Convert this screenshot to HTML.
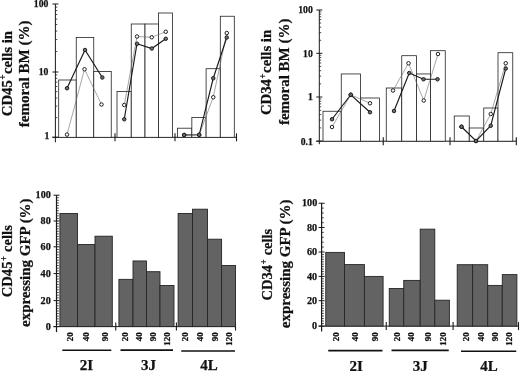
<!DOCTYPE html><html><head><meta charset="utf-8"><style>html,body{margin:0;padding:0;background:#fff}svg{display:block;position:absolute;left:0;top:0}text{font-family:"Liberation Serif",serif;font-weight:bold;fill:#111;stroke:#111;stroke-width:0.25px;stroke-linejoin:round}</style></head><body>
<svg width="520" height="371" viewBox="0 0 520 371">
<rect width="520" height="371" fill="#fff"/><g opacity="0.999">
<line x1="55.40" y1="4.00" x2="55.40" y2="142.30" stroke="#1a1a1a" stroke-width="1"/>
<line x1="52.40" y1="4.00" x2="58.40" y2="4.00" stroke="#1a1a1a" stroke-width="1"/>
<text x="48.40" y="7.35" font-size="9.7" text-anchor="end" >100</text>
<line x1="52.40" y1="72.00" x2="58.40" y2="72.00" stroke="#1a1a1a" stroke-width="1"/>
<text x="48.40" y="75.35" font-size="9.7" text-anchor="end" >10</text>
<line x1="52.40" y1="137.30" x2="58.40" y2="137.30" stroke="#1a1a1a" stroke-width="1"/>
<text x="49.30" y="139.20" font-size="9.7" text-anchor="end" >1</text>
<line x1="55.40" y1="51.53" x2="57.30" y2="51.53" stroke="#1a1a1a" stroke-width="0.8"/>
<line x1="55.40" y1="39.56" x2="57.30" y2="39.56" stroke="#1a1a1a" stroke-width="0.8"/>
<line x1="55.40" y1="31.06" x2="57.30" y2="31.06" stroke="#1a1a1a" stroke-width="0.8"/>
<line x1="55.40" y1="24.47" x2="57.30" y2="24.47" stroke="#1a1a1a" stroke-width="0.8"/>
<line x1="55.40" y1="19.09" x2="57.30" y2="19.09" stroke="#1a1a1a" stroke-width="0.8"/>
<line x1="55.40" y1="14.53" x2="57.30" y2="14.53" stroke="#1a1a1a" stroke-width="0.8"/>
<line x1="55.40" y1="10.59" x2="57.30" y2="10.59" stroke="#1a1a1a" stroke-width="0.8"/>
<line x1="55.40" y1="7.11" x2="57.30" y2="7.11" stroke="#1a1a1a" stroke-width="0.8"/>
<line x1="55.40" y1="117.64" x2="57.30" y2="117.64" stroke="#1a1a1a" stroke-width="0.8"/>
<line x1="55.40" y1="106.14" x2="57.30" y2="106.14" stroke="#1a1a1a" stroke-width="0.8"/>
<line x1="55.40" y1="97.99" x2="57.30" y2="97.99" stroke="#1a1a1a" stroke-width="0.8"/>
<line x1="55.40" y1="91.66" x2="57.30" y2="91.66" stroke="#1a1a1a" stroke-width="0.8"/>
<line x1="55.40" y1="86.49" x2="57.30" y2="86.49" stroke="#1a1a1a" stroke-width="0.8"/>
<line x1="55.40" y1="82.12" x2="57.30" y2="82.12" stroke="#1a1a1a" stroke-width="0.8"/>
<line x1="55.40" y1="78.33" x2="57.30" y2="78.33" stroke="#1a1a1a" stroke-width="0.8"/>
<line x1="55.40" y1="74.99" x2="57.30" y2="74.99" stroke="#1a1a1a" stroke-width="0.8"/>
<line x1="52.40" y1="137.30" x2="236.50" y2="137.30" stroke="#1a1a1a" stroke-width="1"/>
<line x1="115.00" y1="133.30" x2="115.00" y2="141.30" stroke="#1a1a1a" stroke-width="1.1"/>
<line x1="175.00" y1="133.30" x2="175.00" y2="141.30" stroke="#1a1a1a" stroke-width="1.1"/>
<line x1="236.50" y1="133.30" x2="236.50" y2="141.30" stroke="#1a1a1a" stroke-width="1.1"/>
<rect x="58.70" y="80.00" width="17.55" height="57.30" fill="#fff" stroke="#222" stroke-width="0.8"/>
<rect x="76.25" y="37.50" width="17.50" height="99.80" fill="#fff" stroke="#222" stroke-width="0.8"/>
<rect x="93.75" y="71.50" width="17.50" height="65.80" fill="#fff" stroke="#222" stroke-width="0.8"/>
<rect x="117.00" y="91.50" width="14.25" height="45.80" fill="#fff" stroke="#222" stroke-width="0.8"/>
<rect x="131.25" y="24.00" width="13.75" height="113.30" fill="#fff" stroke="#222" stroke-width="0.8"/>
<rect x="145.00" y="24.00" width="13.50" height="113.30" fill="#fff" stroke="#222" stroke-width="0.8"/>
<rect x="158.50" y="13.00" width="14.00" height="124.30" fill="#fff" stroke="#222" stroke-width="0.8"/>
<rect x="177.40" y="128.20" width="14.45" height="9.10" fill="#fff" stroke="#222" stroke-width="0.8"/>
<rect x="191.85" y="117.40" width="14.25" height="19.90" fill="#fff" stroke="#222" stroke-width="0.8"/>
<rect x="206.10" y="68.70" width="14.20" height="68.60" fill="#fff" stroke="#222" stroke-width="0.8"/>
<rect x="220.30" y="16.25" width="14.00" height="121.05" fill="#fff" stroke="#222" stroke-width="0.8"/>
<polyline points="67.00,134.60 84.50,69.25 101.50,104.50" fill="none" stroke="#6a6a6a" stroke-width="0.6"/>
<polyline points="124.25,105.00 137.00,36.50 151.75,37.25 165.75,31.75" fill="none" stroke="#6a6a6a" stroke-width="0.6"/>
<polyline points="184.15,135.00 199.20,134.80 213.25,97.25 226.75,33.00" fill="none" stroke="#6a6a6a" stroke-width="0.6"/>
<polyline points="67.00,88.25 85.00,50.00 102.30,77.50" fill="none" stroke="#1a1a1a" stroke-width="1.15"/>
<polyline points="124.25,119.25 137.00,43.75 151.75,48.50 165.75,38.75" fill="none" stroke="#1a1a1a" stroke-width="1.15"/>
<polyline points="184.15,135.00 199.20,134.80 213.25,78.25 226.75,37.50" fill="none" stroke="#1a1a1a" stroke-width="1.15"/>
<circle cx="67.00" cy="134.60" r="1.75" fill="#ffffff" stroke="#151515" stroke-width="0.95"/>
<circle cx="84.50" cy="69.25" r="1.75" fill="#ffffff" stroke="#151515" stroke-width="0.95"/>
<circle cx="101.50" cy="104.50" r="1.75" fill="#ffffff" stroke="#151515" stroke-width="0.95"/>
<circle cx="124.25" cy="105.00" r="1.75" fill="#ffffff" stroke="#151515" stroke-width="0.95"/>
<circle cx="137.00" cy="36.50" r="1.75" fill="#ffffff" stroke="#151515" stroke-width="0.95"/>
<circle cx="151.75" cy="37.25" r="1.75" fill="#ffffff" stroke="#151515" stroke-width="0.95"/>
<circle cx="165.75" cy="31.75" r="1.75" fill="#ffffff" stroke="#151515" stroke-width="0.95"/>
<circle cx="184.15" cy="135.00" r="1.75" fill="#ffffff" stroke="#151515" stroke-width="0.95"/>
<circle cx="199.20" cy="134.80" r="1.75" fill="#ffffff" stroke="#151515" stroke-width="0.95"/>
<circle cx="213.25" cy="97.25" r="1.75" fill="#ffffff" stroke="#151515" stroke-width="0.95"/>
<circle cx="226.75" cy="33.00" r="1.75" fill="#ffffff" stroke="#151515" stroke-width="0.95"/>
<circle cx="67.00" cy="88.25" r="1.75" fill="#707070" stroke="#151515" stroke-width="0.95"/>
<circle cx="85.00" cy="50.00" r="1.75" fill="#707070" stroke="#151515" stroke-width="0.95"/>
<circle cx="102.30" cy="77.50" r="1.75" fill="#707070" stroke="#151515" stroke-width="0.95"/>
<circle cx="124.25" cy="119.25" r="1.75" fill="#707070" stroke="#151515" stroke-width="0.95"/>
<circle cx="137.00" cy="43.75" r="1.75" fill="#707070" stroke="#151515" stroke-width="0.95"/>
<circle cx="151.75" cy="48.50" r="1.75" fill="#707070" stroke="#151515" stroke-width="0.95"/>
<circle cx="165.75" cy="38.75" r="1.75" fill="#707070" stroke="#151515" stroke-width="0.95"/>
<circle cx="184.15" cy="135.00" r="1.75" fill="#707070" stroke="#151515" stroke-width="0.95"/>
<circle cx="199.20" cy="134.80" r="1.75" fill="#707070" stroke="#151515" stroke-width="0.95"/>
<circle cx="213.25" cy="78.25" r="1.75" fill="#707070" stroke="#151515" stroke-width="0.95"/>
<circle cx="226.75" cy="37.50" r="1.75" fill="#707070" stroke="#151515" stroke-width="0.95"/>
<text transform="translate(11.60,73.60) rotate(-90) scale(0.985,1.02)" font-size="15" text-anchor="middle" >CD45<tspan font-size="9.5" dx="0.4" dy="-5.2" stroke-width="0.15">+</tspan><tspan dx="0.4" dy="5.2">cells in</tspan></text>
<text transform="translate(29.00,73.90) rotate(-90) scale(1,1.02)" font-size="15" text-anchor="middle" >femoral BM (%)</text>
<line x1="319.30" y1="10.00" x2="319.30" y2="144.20" stroke="#1a1a1a" stroke-width="1"/>
<line x1="316.30" y1="10.00" x2="322.30" y2="10.00" stroke="#1a1a1a" stroke-width="1"/>
<text x="312.80" y="13.35" font-size="9.7" text-anchor="end" >100</text>
<line x1="316.30" y1="53.30" x2="322.30" y2="53.30" stroke="#1a1a1a" stroke-width="1"/>
<text x="312.80" y="56.65" font-size="9.7" text-anchor="end" >10</text>
<line x1="316.30" y1="97.00" x2="322.30" y2="97.00" stroke="#1a1a1a" stroke-width="1"/>
<text x="312.80" y="100.35" font-size="9.7" text-anchor="end" >1</text>
<line x1="316.30" y1="141.20" x2="322.30" y2="141.20" stroke="#1a1a1a" stroke-width="1"/>
<text x="312.80" y="144.55" font-size="9.7" text-anchor="end" >0.1</text>
<line x1="319.30" y1="40.27" x2="321.20" y2="40.27" stroke="#1a1a1a" stroke-width="0.8"/>
<line x1="319.30" y1="32.64" x2="321.20" y2="32.64" stroke="#1a1a1a" stroke-width="0.8"/>
<line x1="319.30" y1="27.23" x2="321.20" y2="27.23" stroke="#1a1a1a" stroke-width="0.8"/>
<line x1="319.30" y1="23.03" x2="321.20" y2="23.03" stroke="#1a1a1a" stroke-width="0.8"/>
<line x1="319.30" y1="19.61" x2="321.20" y2="19.61" stroke="#1a1a1a" stroke-width="0.8"/>
<line x1="319.30" y1="16.71" x2="321.20" y2="16.71" stroke="#1a1a1a" stroke-width="0.8"/>
<line x1="319.30" y1="14.20" x2="321.20" y2="14.20" stroke="#1a1a1a" stroke-width="0.8"/>
<line x1="319.30" y1="11.98" x2="321.20" y2="11.98" stroke="#1a1a1a" stroke-width="0.8"/>
<line x1="319.30" y1="83.84" x2="321.20" y2="83.84" stroke="#1a1a1a" stroke-width="0.8"/>
<line x1="319.30" y1="76.15" x2="321.20" y2="76.15" stroke="#1a1a1a" stroke-width="0.8"/>
<line x1="319.30" y1="70.69" x2="321.20" y2="70.69" stroke="#1a1a1a" stroke-width="0.8"/>
<line x1="319.30" y1="66.46" x2="321.20" y2="66.46" stroke="#1a1a1a" stroke-width="0.8"/>
<line x1="319.30" y1="62.99" x2="321.20" y2="62.99" stroke="#1a1a1a" stroke-width="0.8"/>
<line x1="319.30" y1="60.07" x2="321.20" y2="60.07" stroke="#1a1a1a" stroke-width="0.8"/>
<line x1="319.30" y1="57.53" x2="321.20" y2="57.53" stroke="#1a1a1a" stroke-width="0.8"/>
<line x1="319.30" y1="55.30" x2="321.20" y2="55.30" stroke="#1a1a1a" stroke-width="0.8"/>
<line x1="319.30" y1="127.89" x2="321.20" y2="127.89" stroke="#1a1a1a" stroke-width="0.8"/>
<line x1="319.30" y1="120.11" x2="321.20" y2="120.11" stroke="#1a1a1a" stroke-width="0.8"/>
<line x1="319.30" y1="114.59" x2="321.20" y2="114.59" stroke="#1a1a1a" stroke-width="0.8"/>
<line x1="319.30" y1="110.31" x2="321.20" y2="110.31" stroke="#1a1a1a" stroke-width="0.8"/>
<line x1="319.30" y1="106.81" x2="321.20" y2="106.81" stroke="#1a1a1a" stroke-width="0.8"/>
<line x1="319.30" y1="103.85" x2="321.20" y2="103.85" stroke="#1a1a1a" stroke-width="0.8"/>
<line x1="319.30" y1="101.28" x2="321.20" y2="101.28" stroke="#1a1a1a" stroke-width="0.8"/>
<line x1="319.30" y1="99.02" x2="321.20" y2="99.02" stroke="#1a1a1a" stroke-width="0.8"/>
<line x1="316.30" y1="141.20" x2="516.30" y2="141.20" stroke="#1a1a1a" stroke-width="1"/>
<line x1="383.25" y1="137.20" x2="383.25" y2="145.20" stroke="#1a1a1a" stroke-width="1.1"/>
<line x1="450.00" y1="137.20" x2="450.00" y2="145.20" stroke="#1a1a1a" stroke-width="1.1"/>
<line x1="516.30" y1="137.20" x2="516.30" y2="145.20" stroke="#1a1a1a" stroke-width="1.1"/>
<rect x="323.00" y="111.25" width="18.25" height="29.95" fill="#fff" stroke="#222" stroke-width="0.8"/>
<rect x="341.25" y="73.95" width="19.25" height="67.25" fill="#fff" stroke="#222" stroke-width="0.8"/>
<rect x="360.50" y="98.00" width="19.00" height="43.20" fill="#fff" stroke="#222" stroke-width="0.8"/>
<rect x="386.25" y="88.00" width="15.50" height="53.20" fill="#fff" stroke="#222" stroke-width="0.8"/>
<rect x="401.75" y="55.70" width="14.75" height="85.50" fill="#fff" stroke="#222" stroke-width="0.8"/>
<rect x="416.50" y="73.95" width="14.00" height="67.25" fill="#fff" stroke="#222" stroke-width="0.8"/>
<rect x="430.50" y="50.70" width="14.75" height="90.50" fill="#fff" stroke="#222" stroke-width="0.8"/>
<rect x="454.25" y="116.00" width="15.00" height="25.20" fill="#fff" stroke="#222" stroke-width="0.8"/>
<rect x="469.25" y="128.00" width="14.50" height="13.20" fill="#fff" stroke="#222" stroke-width="0.8"/>
<rect x="483.75" y="108.00" width="14.25" height="33.20" fill="#fff" stroke="#222" stroke-width="0.8"/>
<rect x="498.00" y="52.70" width="14.75" height="88.50" fill="#fff" stroke="#222" stroke-width="0.8"/>
<polyline points="332.00,127.00 350.75,94.75 370.00,103.25" fill="none" stroke="#6a6a6a" stroke-width="0.6"/>
<polyline points="393.00,90.50 408.50,63.25 423.75,100.50 438.00,54.00" fill="none" stroke="#6a6a6a" stroke-width="0.6"/>
<polyline points="461.50,126.75 476.00,141.00 490.75,114.00 505.75,63.25" fill="none" stroke="#6a6a6a" stroke-width="0.6"/>
<polyline points="332.00,119.25 350.75,94.75 370.00,112.25" fill="none" stroke="#1a1a1a" stroke-width="1.15"/>
<polyline points="394.00,111.00 409.25,73.00 423.50,79.25 437.50,79.25" fill="none" stroke="#1a1a1a" stroke-width="1.15"/>
<polyline points="461.50,126.75 476.00,141.00 490.75,125.75 505.75,68.50" fill="none" stroke="#1a1a1a" stroke-width="1.15"/>
<circle cx="332.00" cy="127.00" r="1.75" fill="#ffffff" stroke="#151515" stroke-width="0.95"/>
<circle cx="350.75" cy="94.75" r="1.75" fill="#ffffff" stroke="#151515" stroke-width="0.95"/>
<circle cx="370.00" cy="103.25" r="1.75" fill="#ffffff" stroke="#151515" stroke-width="0.95"/>
<circle cx="393.00" cy="90.50" r="1.75" fill="#ffffff" stroke="#151515" stroke-width="0.95"/>
<circle cx="408.50" cy="63.25" r="1.75" fill="#ffffff" stroke="#151515" stroke-width="0.95"/>
<circle cx="423.75" cy="100.50" r="1.75" fill="#ffffff" stroke="#151515" stroke-width="0.95"/>
<circle cx="438.00" cy="54.00" r="1.75" fill="#ffffff" stroke="#151515" stroke-width="0.95"/>
<circle cx="461.50" cy="126.75" r="1.75" fill="#ffffff" stroke="#151515" stroke-width="0.95"/>
<circle cx="476.00" cy="141.00" r="1.75" fill="#ffffff" stroke="#151515" stroke-width="0.95"/>
<circle cx="490.75" cy="114.00" r="1.75" fill="#ffffff" stroke="#151515" stroke-width="0.95"/>
<circle cx="505.75" cy="63.25" r="1.75" fill="#ffffff" stroke="#151515" stroke-width="0.95"/>
<circle cx="332.00" cy="119.25" r="1.75" fill="#707070" stroke="#151515" stroke-width="0.95"/>
<circle cx="350.75" cy="94.75" r="1.75" fill="#707070" stroke="#151515" stroke-width="0.95"/>
<circle cx="370.00" cy="112.25" r="1.75" fill="#707070" stroke="#151515" stroke-width="0.95"/>
<circle cx="394.00" cy="111.00" r="1.75" fill="#707070" stroke="#151515" stroke-width="0.95"/>
<circle cx="409.25" cy="73.00" r="1.75" fill="#707070" stroke="#151515" stroke-width="0.95"/>
<circle cx="423.50" cy="79.25" r="1.75" fill="#707070" stroke="#151515" stroke-width="0.95"/>
<circle cx="437.50" cy="79.25" r="1.75" fill="#707070" stroke="#151515" stroke-width="0.95"/>
<circle cx="461.50" cy="126.75" r="1.75" fill="#707070" stroke="#151515" stroke-width="0.95"/>
<circle cx="476.00" cy="141.00" r="1.75" fill="#707070" stroke="#151515" stroke-width="0.95"/>
<circle cx="490.75" cy="125.75" r="1.75" fill="#707070" stroke="#151515" stroke-width="0.95"/>
<circle cx="505.75" cy="68.50" r="1.75" fill="#707070" stroke="#151515" stroke-width="0.95"/>
<text transform="translate(271.00,72.50) rotate(-90) scale(0.985,1.02)" font-size="15" text-anchor="middle" >CD34<tspan font-size="9.5" dx="0.4" dy="-5.2" stroke-width="0.15">+</tspan><tspan dx="0.4" dy="5.2">cells in</tspan></text>
<text transform="translate(288.50,71.80) rotate(-90) scale(1,1.02)" font-size="15" text-anchor="middle" >femoral BM (%)</text>
<line x1="56.50" y1="195.20" x2="56.50" y2="332.10" stroke="#1a1a1a" stroke-width="1.2"/>
<line x1="53.50" y1="195.20" x2="59.50" y2="195.20" stroke="#1a1a1a" stroke-width="1"/>
<text x="50.80" y="198.20" font-size="9.8" text-anchor="end" textLength="15.2" lengthAdjust="spacingAndGlyphs">100</text>
<line x1="53.50" y1="221.00" x2="59.50" y2="221.00" stroke="#1a1a1a" stroke-width="1"/>
<text x="50.80" y="224.10" font-size="10.2" text-anchor="end" >80</text>
<line x1="53.50" y1="246.80" x2="59.50" y2="246.80" stroke="#1a1a1a" stroke-width="1"/>
<text x="50.80" y="249.90" font-size="10.2" text-anchor="end" >60</text>
<line x1="53.50" y1="273.60" x2="59.50" y2="273.60" stroke="#1a1a1a" stroke-width="1"/>
<text x="50.80" y="276.70" font-size="10.2" text-anchor="end" >40</text>
<line x1="53.50" y1="300.60" x2="59.50" y2="300.60" stroke="#1a1a1a" stroke-width="1"/>
<text x="50.80" y="303.70" font-size="10.2" text-anchor="end" >20</text>
<line x1="53.50" y1="326.60" x2="59.50" y2="326.60" stroke="#1a1a1a" stroke-width="1"/>
<text x="50.80" y="329.70" font-size="10.2" text-anchor="end" >0</text>
<line x1="56.50" y1="197.78" x2="58.80" y2="197.78" stroke="#1a1a1a" stroke-width="0.75"/>
<line x1="56.50" y1="200.36" x2="58.80" y2="200.36" stroke="#1a1a1a" stroke-width="0.75"/>
<line x1="56.50" y1="202.94" x2="58.80" y2="202.94" stroke="#1a1a1a" stroke-width="0.75"/>
<line x1="56.50" y1="205.52" x2="58.80" y2="205.52" stroke="#1a1a1a" stroke-width="0.75"/>
<line x1="56.50" y1="208.10" x2="58.80" y2="208.10" stroke="#1a1a1a" stroke-width="0.75"/>
<line x1="56.50" y1="210.68" x2="58.80" y2="210.68" stroke="#1a1a1a" stroke-width="0.75"/>
<line x1="56.50" y1="213.26" x2="58.80" y2="213.26" stroke="#1a1a1a" stroke-width="0.75"/>
<line x1="56.50" y1="215.84" x2="58.80" y2="215.84" stroke="#1a1a1a" stroke-width="0.75"/>
<line x1="56.50" y1="218.42" x2="58.80" y2="218.42" stroke="#1a1a1a" stroke-width="0.75"/>
<line x1="56.50" y1="223.58" x2="58.80" y2="223.58" stroke="#1a1a1a" stroke-width="0.75"/>
<line x1="56.50" y1="226.16" x2="58.80" y2="226.16" stroke="#1a1a1a" stroke-width="0.75"/>
<line x1="56.50" y1="228.74" x2="58.80" y2="228.74" stroke="#1a1a1a" stroke-width="0.75"/>
<line x1="56.50" y1="231.32" x2="58.80" y2="231.32" stroke="#1a1a1a" stroke-width="0.75"/>
<line x1="56.50" y1="233.90" x2="58.80" y2="233.90" stroke="#1a1a1a" stroke-width="0.75"/>
<line x1="56.50" y1="236.48" x2="58.80" y2="236.48" stroke="#1a1a1a" stroke-width="0.75"/>
<line x1="56.50" y1="239.06" x2="58.80" y2="239.06" stroke="#1a1a1a" stroke-width="0.75"/>
<line x1="56.50" y1="241.64" x2="58.80" y2="241.64" stroke="#1a1a1a" stroke-width="0.75"/>
<line x1="56.50" y1="244.22" x2="58.80" y2="244.22" stroke="#1a1a1a" stroke-width="0.75"/>
<line x1="56.50" y1="249.48" x2="58.80" y2="249.48" stroke="#1a1a1a" stroke-width="0.75"/>
<line x1="56.50" y1="252.16" x2="58.80" y2="252.16" stroke="#1a1a1a" stroke-width="0.75"/>
<line x1="56.50" y1="254.84" x2="58.80" y2="254.84" stroke="#1a1a1a" stroke-width="0.75"/>
<line x1="56.50" y1="257.52" x2="58.80" y2="257.52" stroke="#1a1a1a" stroke-width="0.75"/>
<line x1="56.50" y1="260.20" x2="58.80" y2="260.20" stroke="#1a1a1a" stroke-width="0.75"/>
<line x1="56.50" y1="262.88" x2="58.80" y2="262.88" stroke="#1a1a1a" stroke-width="0.75"/>
<line x1="56.50" y1="265.56" x2="58.80" y2="265.56" stroke="#1a1a1a" stroke-width="0.75"/>
<line x1="56.50" y1="268.24" x2="58.80" y2="268.24" stroke="#1a1a1a" stroke-width="0.75"/>
<line x1="56.50" y1="270.92" x2="58.80" y2="270.92" stroke="#1a1a1a" stroke-width="0.75"/>
<line x1="56.50" y1="276.30" x2="58.80" y2="276.30" stroke="#1a1a1a" stroke-width="0.75"/>
<line x1="56.50" y1="279.00" x2="58.80" y2="279.00" stroke="#1a1a1a" stroke-width="0.75"/>
<line x1="56.50" y1="281.70" x2="58.80" y2="281.70" stroke="#1a1a1a" stroke-width="0.75"/>
<line x1="56.50" y1="284.40" x2="58.80" y2="284.40" stroke="#1a1a1a" stroke-width="0.75"/>
<line x1="56.50" y1="287.10" x2="58.80" y2="287.10" stroke="#1a1a1a" stroke-width="0.75"/>
<line x1="56.50" y1="289.80" x2="58.80" y2="289.80" stroke="#1a1a1a" stroke-width="0.75"/>
<line x1="56.50" y1="292.50" x2="58.80" y2="292.50" stroke="#1a1a1a" stroke-width="0.75"/>
<line x1="56.50" y1="295.20" x2="58.80" y2="295.20" stroke="#1a1a1a" stroke-width="0.75"/>
<line x1="56.50" y1="297.90" x2="58.80" y2="297.90" stroke="#1a1a1a" stroke-width="0.75"/>
<line x1="56.50" y1="303.20" x2="58.80" y2="303.20" stroke="#1a1a1a" stroke-width="0.75"/>
<line x1="56.50" y1="305.80" x2="58.80" y2="305.80" stroke="#1a1a1a" stroke-width="0.75"/>
<line x1="56.50" y1="308.40" x2="58.80" y2="308.40" stroke="#1a1a1a" stroke-width="0.75"/>
<line x1="56.50" y1="311.00" x2="58.80" y2="311.00" stroke="#1a1a1a" stroke-width="0.75"/>
<line x1="56.50" y1="313.60" x2="58.80" y2="313.60" stroke="#1a1a1a" stroke-width="0.75"/>
<line x1="56.50" y1="316.20" x2="58.80" y2="316.20" stroke="#1a1a1a" stroke-width="0.75"/>
<line x1="56.50" y1="318.80" x2="58.80" y2="318.80" stroke="#1a1a1a" stroke-width="0.75"/>
<line x1="56.50" y1="321.40" x2="58.80" y2="321.40" stroke="#1a1a1a" stroke-width="0.75"/>
<line x1="56.50" y1="324.00" x2="58.80" y2="324.00" stroke="#1a1a1a" stroke-width="0.75"/>
<line x1="53.50" y1="326.60" x2="235.50" y2="326.60" stroke="#1a1a1a" stroke-width="1"/>
<line x1="115.75" y1="322.60" x2="115.75" y2="330.60" stroke="#1a1a1a" stroke-width="1.1"/>
<line x1="176.40" y1="322.60" x2="176.40" y2="330.60" stroke="#1a1a1a" stroke-width="1.1"/>
<line x1="235.50" y1="322.60" x2="235.50" y2="330.60" stroke="#1a1a1a" stroke-width="1.1"/>
<rect x="59.90" y="213.45" width="17.60" height="113.15" fill="#636363" stroke="#262626" stroke-width="0.9"/>
<rect x="77.50" y="244.45" width="17.50" height="82.15" fill="#636363" stroke="#262626" stroke-width="0.9"/>
<rect x="95.00" y="236.20" width="17.30" height="90.40" fill="#636363" stroke="#262626" stroke-width="0.9"/>
<rect x="118.90" y="279.35" width="14.10" height="47.25" fill="#636363" stroke="#262626" stroke-width="0.9"/>
<rect x="133.00" y="260.95" width="13.50" height="65.65" fill="#636363" stroke="#262626" stroke-width="0.9"/>
<rect x="146.50" y="271.70" width="13.50" height="54.90" fill="#636363" stroke="#262626" stroke-width="0.9"/>
<rect x="160.00" y="285.45" width="14.00" height="41.15" fill="#636363" stroke="#262626" stroke-width="0.9"/>
<rect x="178.10" y="213.45" width="14.40" height="113.15" fill="#636363" stroke="#262626" stroke-width="0.9"/>
<rect x="192.50" y="209.20" width="15.00" height="117.40" fill="#636363" stroke="#262626" stroke-width="0.9"/>
<rect x="207.50" y="239.20" width="14.10" height="87.40" fill="#636363" stroke="#262626" stroke-width="0.9"/>
<rect x="221.60" y="265.45" width="13.90" height="61.15" fill="#636363" stroke="#262626" stroke-width="0.9"/>
<text transform="translate(72.50,332.20) rotate(-90) scale(1,1)" font-size="9" text-anchor="end" stroke-width="0.4">20</text>
<text transform="translate(89.25,332.20) rotate(-90) scale(1,1)" font-size="9" text-anchor="end" stroke-width="0.4">40</text>
<text transform="translate(107.50,332.20) rotate(-90) scale(1,1)" font-size="9" text-anchor="end" stroke-width="0.4">90</text>
<text transform="translate(128.40,332.20) rotate(-90) scale(1,1)" font-size="9" text-anchor="end" stroke-width="0.4">20</text>
<text transform="translate(141.70,332.20) rotate(-90) scale(1,1)" font-size="9" text-anchor="end" stroke-width="0.4">40</text>
<text transform="translate(155.80,332.20) rotate(-90) scale(1,1)" font-size="9" text-anchor="end" stroke-width="0.4">90</text>
<text transform="translate(170.20,332.20) rotate(-90) scale(1,1)" font-size="9" text-anchor="end" stroke-width="0.4">120</text>
<text transform="translate(188.40,332.20) rotate(-90) scale(1,1)" font-size="9" text-anchor="end" stroke-width="0.4">20</text>
<text transform="translate(203.30,332.20) rotate(-90) scale(1,1)" font-size="9" text-anchor="end" stroke-width="0.4">40</text>
<text transform="translate(217.60,332.20) rotate(-90) scale(1,1)" font-size="9" text-anchor="end" stroke-width="0.4">90</text>
<text transform="translate(231.80,332.20) rotate(-90) scale(1,1)" font-size="9" text-anchor="end" stroke-width="0.4">120</text>
<line x1="62.30" y1="350.30" x2="111.30" y2="350.30" stroke="#111" stroke-width="1.6"/>
<line x1="120.50" y1="350.10" x2="173.00" y2="350.10" stroke="#111" stroke-width="1.6"/>
<line x1="181.25" y1="351.00" x2="235.00" y2="351.00" stroke="#111" stroke-width="1.6"/>
<text x="86.40" y="370.40" font-size="15" text-anchor="middle" stroke-width="0.4">2I</text>
<text x="148.60" y="370.40" font-size="15" text-anchor="middle" stroke-width="0.4">3J</text>
<text x="209.00" y="370.40" font-size="15" text-anchor="middle" stroke-width="0.4">4L</text>
<text transform="translate(12.00,261.20) rotate(-90) scale(0.972,1.02)" font-size="15" text-anchor="middle" >CD45<tspan font-size="9.5" dx="0.4" dy="-5.2" stroke-width="0.15">+</tspan><tspan dx="0.4" dy="5.2"> cells</tspan></text>
<text transform="translate(29.50,262.70) rotate(-90) scale(0.998,1.02)" font-size="15" text-anchor="middle" >expressing GFP (%)</text>
<line x1="321.60" y1="203.25" x2="321.60" y2="331.60" stroke="#1a1a1a" stroke-width="1.2"/>
<line x1="318.60" y1="203.25" x2="324.60" y2="203.25" stroke="#1a1a1a" stroke-width="1"/>
<text x="317.20" y="206.25" font-size="9.8" text-anchor="end" textLength="15.2" lengthAdjust="spacingAndGlyphs">100</text>
<line x1="318.60" y1="227.50" x2="324.60" y2="227.50" stroke="#1a1a1a" stroke-width="1"/>
<text x="317.20" y="230.60" font-size="10.2" text-anchor="end" >80</text>
<line x1="318.60" y1="252.00" x2="324.60" y2="252.00" stroke="#1a1a1a" stroke-width="1"/>
<text x="317.20" y="255.10" font-size="10.2" text-anchor="end" >60</text>
<line x1="318.60" y1="276.40" x2="324.60" y2="276.40" stroke="#1a1a1a" stroke-width="1"/>
<text x="317.20" y="279.50" font-size="10.2" text-anchor="end" >40</text>
<line x1="318.60" y1="300.70" x2="324.60" y2="300.70" stroke="#1a1a1a" stroke-width="1"/>
<text x="317.20" y="303.80" font-size="10.2" text-anchor="end" >20</text>
<line x1="318.60" y1="326.10" x2="324.60" y2="326.10" stroke="#1a1a1a" stroke-width="1"/>
<text x="317.20" y="329.20" font-size="10.2" text-anchor="end" >0</text>
<line x1="321.60" y1="208.10" x2="323.90" y2="208.10" stroke="#1a1a1a" stroke-width="0.75"/>
<line x1="321.60" y1="212.95" x2="323.90" y2="212.95" stroke="#1a1a1a" stroke-width="0.75"/>
<line x1="321.60" y1="217.80" x2="323.90" y2="217.80" stroke="#1a1a1a" stroke-width="0.75"/>
<line x1="321.60" y1="222.65" x2="323.90" y2="222.65" stroke="#1a1a1a" stroke-width="0.75"/>
<line x1="321.60" y1="232.40" x2="323.90" y2="232.40" stroke="#1a1a1a" stroke-width="0.75"/>
<line x1="321.60" y1="237.30" x2="323.90" y2="237.30" stroke="#1a1a1a" stroke-width="0.75"/>
<line x1="321.60" y1="242.20" x2="323.90" y2="242.20" stroke="#1a1a1a" stroke-width="0.75"/>
<line x1="321.60" y1="247.10" x2="323.90" y2="247.10" stroke="#1a1a1a" stroke-width="0.75"/>
<line x1="321.60" y1="254.44" x2="323.90" y2="254.44" stroke="#1a1a1a" stroke-width="0.75"/>
<line x1="321.60" y1="256.88" x2="323.90" y2="256.88" stroke="#1a1a1a" stroke-width="0.75"/>
<line x1="321.60" y1="259.32" x2="323.90" y2="259.32" stroke="#1a1a1a" stroke-width="0.75"/>
<line x1="321.60" y1="261.76" x2="323.90" y2="261.76" stroke="#1a1a1a" stroke-width="0.75"/>
<line x1="321.60" y1="264.20" x2="323.90" y2="264.20" stroke="#1a1a1a" stroke-width="0.75"/>
<line x1="321.60" y1="266.64" x2="323.90" y2="266.64" stroke="#1a1a1a" stroke-width="0.75"/>
<line x1="321.60" y1="269.08" x2="323.90" y2="269.08" stroke="#1a1a1a" stroke-width="0.75"/>
<line x1="321.60" y1="271.52" x2="323.90" y2="271.52" stroke="#1a1a1a" stroke-width="0.75"/>
<line x1="321.60" y1="273.96" x2="323.90" y2="273.96" stroke="#1a1a1a" stroke-width="0.75"/>
<line x1="321.60" y1="278.83" x2="323.90" y2="278.83" stroke="#1a1a1a" stroke-width="0.75"/>
<line x1="321.60" y1="281.26" x2="323.90" y2="281.26" stroke="#1a1a1a" stroke-width="0.75"/>
<line x1="321.60" y1="283.69" x2="323.90" y2="283.69" stroke="#1a1a1a" stroke-width="0.75"/>
<line x1="321.60" y1="286.12" x2="323.90" y2="286.12" stroke="#1a1a1a" stroke-width="0.75"/>
<line x1="321.60" y1="288.55" x2="323.90" y2="288.55" stroke="#1a1a1a" stroke-width="0.75"/>
<line x1="321.60" y1="290.98" x2="323.90" y2="290.98" stroke="#1a1a1a" stroke-width="0.75"/>
<line x1="321.60" y1="293.41" x2="323.90" y2="293.41" stroke="#1a1a1a" stroke-width="0.75"/>
<line x1="321.60" y1="295.84" x2="323.90" y2="295.84" stroke="#1a1a1a" stroke-width="0.75"/>
<line x1="321.60" y1="298.27" x2="323.90" y2="298.27" stroke="#1a1a1a" stroke-width="0.75"/>
<line x1="321.60" y1="303.24" x2="323.90" y2="303.24" stroke="#1a1a1a" stroke-width="0.75"/>
<line x1="321.60" y1="305.78" x2="323.90" y2="305.78" stroke="#1a1a1a" stroke-width="0.75"/>
<line x1="321.60" y1="308.32" x2="323.90" y2="308.32" stroke="#1a1a1a" stroke-width="0.75"/>
<line x1="321.60" y1="310.86" x2="323.90" y2="310.86" stroke="#1a1a1a" stroke-width="0.75"/>
<line x1="321.60" y1="313.40" x2="323.90" y2="313.40" stroke="#1a1a1a" stroke-width="0.75"/>
<line x1="321.60" y1="315.94" x2="323.90" y2="315.94" stroke="#1a1a1a" stroke-width="0.75"/>
<line x1="321.60" y1="318.48" x2="323.90" y2="318.48" stroke="#1a1a1a" stroke-width="0.75"/>
<line x1="321.60" y1="321.02" x2="323.90" y2="321.02" stroke="#1a1a1a" stroke-width="0.75"/>
<line x1="321.60" y1="323.56" x2="323.90" y2="323.56" stroke="#1a1a1a" stroke-width="0.75"/>
<line x1="318.60" y1="326.10" x2="518.50" y2="326.10" stroke="#1a1a1a" stroke-width="1"/>
<line x1="386.25" y1="322.10" x2="386.25" y2="330.10" stroke="#1a1a1a" stroke-width="1.1"/>
<line x1="453.10" y1="322.10" x2="453.10" y2="330.10" stroke="#1a1a1a" stroke-width="1.1"/>
<line x1="518.50" y1="322.10" x2="518.50" y2="330.10" stroke="#1a1a1a" stroke-width="1.1"/>
<rect x="325.75" y="252.40" width="18.75" height="73.70" fill="#636363" stroke="#262626" stroke-width="0.9"/>
<rect x="344.50" y="264.60" width="19.90" height="61.50" fill="#636363" stroke="#262626" stroke-width="0.9"/>
<rect x="364.40" y="276.40" width="18.70" height="49.70" fill="#636363" stroke="#262626" stroke-width="0.9"/>
<rect x="389.25" y="288.50" width="14.50" height="37.60" fill="#636363" stroke="#262626" stroke-width="0.9"/>
<rect x="403.75" y="280.40" width="16.45" height="45.70" fill="#636363" stroke="#262626" stroke-width="0.9"/>
<rect x="420.20" y="229.15" width="14.60" height="96.95" fill="#636363" stroke="#262626" stroke-width="0.9"/>
<rect x="434.80" y="300.20" width="14.60" height="25.90" fill="#636363" stroke="#262626" stroke-width="0.9"/>
<rect x="457.20" y="264.70" width="15.40" height="61.40" fill="#636363" stroke="#262626" stroke-width="0.9"/>
<rect x="472.60" y="264.70" width="15.10" height="61.40" fill="#636363" stroke="#262626" stroke-width="0.9"/>
<rect x="487.70" y="285.40" width="14.60" height="40.70" fill="#636363" stroke="#262626" stroke-width="0.9"/>
<rect x="502.30" y="274.60" width="14.60" height="51.50" fill="#636363" stroke="#262626" stroke-width="0.9"/>
<text transform="translate(339.10,332.20) rotate(-90) scale(1,1)" font-size="9" text-anchor="end" stroke-width="0.4">20</text>
<text transform="translate(358.20,332.20) rotate(-90) scale(1,1)" font-size="9" text-anchor="end" stroke-width="0.4">40</text>
<text transform="translate(377.50,332.20) rotate(-90) scale(1,1)" font-size="9" text-anchor="end" stroke-width="0.4">90</text>
<text transform="translate(399.50,332.20) rotate(-90) scale(1,1)" font-size="9" text-anchor="end" stroke-width="0.4">20</text>
<text transform="translate(414.10,332.20) rotate(-90) scale(1,1)" font-size="9" text-anchor="end" stroke-width="0.4">40</text>
<text transform="translate(430.50,332.20) rotate(-90) scale(1,1)" font-size="9" text-anchor="end" stroke-width="0.4">90</text>
<text transform="translate(445.50,332.20) rotate(-90) scale(1,1)" font-size="9" text-anchor="end" stroke-width="0.4">120</text>
<text transform="translate(468.50,332.20) rotate(-90) scale(1,1)" font-size="9" text-anchor="end" stroke-width="0.4">20</text>
<text transform="translate(484.00,332.20) rotate(-90) scale(1,1)" font-size="9" text-anchor="end" stroke-width="0.4">40</text>
<text transform="translate(498.20,332.20) rotate(-90) scale(1,1)" font-size="9" text-anchor="end" stroke-width="0.4">90</text>
<text transform="translate(512.20,332.20) rotate(-90) scale(1,1)" font-size="9" text-anchor="end" stroke-width="0.4">120</text>
<line x1="328.25" y1="350.60" x2="382.50" y2="350.60" stroke="#111" stroke-width="1.6"/>
<line x1="391.50" y1="350.40" x2="448.75" y2="350.40" stroke="#111" stroke-width="1.6"/>
<line x1="461.00" y1="351.30" x2="516.25" y2="351.30" stroke="#111" stroke-width="1.6"/>
<text x="356.25" y="370.80" font-size="15" text-anchor="middle" stroke-width="0.4">2I</text>
<text x="420.30" y="370.80" font-size="15" text-anchor="middle" stroke-width="0.4">3J</text>
<text x="489.00" y="370.80" font-size="15" text-anchor="middle" stroke-width="0.4">4L</text>
<text transform="translate(272.00,264.60) rotate(-90) scale(0.968,1.02)" font-size="15" text-anchor="middle" >CD34<tspan font-size="9.5" dx="0.4" dy="-5.2" stroke-width="0.15">+</tspan><tspan dx="0.4" dy="5.2"> cells</tspan></text>
<text transform="translate(289.70,263.80) rotate(-90) scale(1.0,1.02)" font-size="15" text-anchor="middle" >expressing GFP (%)</text>
</g></svg></body></html>
